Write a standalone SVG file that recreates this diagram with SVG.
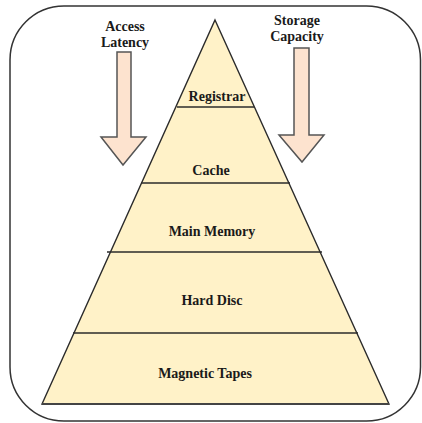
<svg xmlns="http://www.w3.org/2000/svg" width="422" height="423" viewBox="0 0 422 423">
  <style>
    .lbl { font-family: "Liberation Serif", "Times New Roman", serif; font-weight: bold; font-size: 14px; fill: #1a1a1a; text-anchor: middle; }
    .tier { stroke: #2b2b2b; stroke-width: 1.3; }
    .arrow { fill: #fde3cf; stroke: #555555; stroke-width: 1.5; stroke-linejoin: miter; }
  </style>

  <!-- outer frame -->
  <rect id="frame" x="10" y="6" width="410.5" height="415" rx="54" ry="54" fill="#ffffff" stroke="#333333" stroke-width="1.5"/>

  <!-- memory hierarchy pyramid -->
  <g id="pyramid">
    <polygon points="215,20 389,404 42,404" fill="#fff2c8" stroke="#2b2b2b" stroke-width="1.4"/>
    <line x1="42" y1="404" x2="389" y2="404" stroke="#444444" stroke-width="2"/>
  </g>

  <!-- tier dividers -->
  <g id="dividers">
    <line class="tier" x1="177" y1="107" x2="254" y2="107"/>
    <line class="tier" x1="141" y1="183" x2="290" y2="183"/>
    <line class="tier" x1="107" y1="252" x2="322" y2="252"/>
    <line class="tier" x1="73" y1="333" x2="358" y2="333"/>
  </g>

  <g id="tier-registrar"><text class="lbl" x="217" y="101">Registrar</text></g>
  <g id="tier-cache"><text class="lbl" x="211" y="175">Cache</text></g>
  <g id="tier-main-memory"><text class="lbl" x="212" y="236">Main Memory</text></g>
  <g id="tier-hard-disc"><text class="lbl" x="212" y="305">Hard Disc</text></g>
  <g id="tier-magnetic-tapes"><text class="lbl" x="205" y="378">Magnetic Tapes</text></g>

  <!-- direction arrows -->
  <g id="access-latency">
    <text class="lbl" x="125" y="31">Access</text>
    <text class="lbl" x="125" y="47">Latency</text>
    <polygon class="arrow" points="117,52 131,52 131,137 146,137 123,165 101,137 117,137"/>
  </g>
  <g id="storage-capacity">
    <text class="lbl" x="297" y="25">Storage</text>
    <text class="lbl" x="297" y="41">Capacity</text>
    <polygon class="arrow" points="294,48 309,48 309,135 324,135 302,162 279,135 294,135"/>
  </g>
</svg>
